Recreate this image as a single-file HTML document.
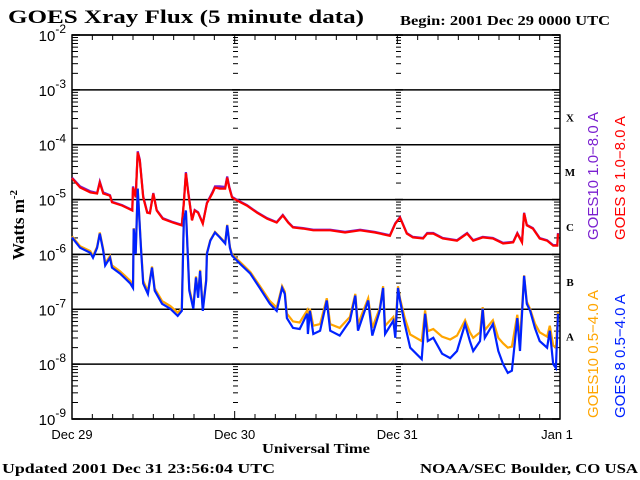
<!DOCTYPE html>
<html><head><meta charset="utf-8"><style>
html,body{margin:0;padding:0;background:#fff;}
svg{display:block;}
.serif{font-family:"Liberation Serif",serif;font-weight:bold;}
.sans{font-family:"Liberation Sans",sans-serif;}
</style></head><body>
<svg id="chart" width="640" height="480" viewBox="0 0 640 480">
<text x="8" y="23" class="serif" font-size="19" textLength="356" lengthAdjust="spacingAndGlyphs">GOES Xray Flux (5 minute data)</text>
<text x="400" y="25" class="serif" font-size="14" textLength="210" lengthAdjust="spacingAndGlyphs">Begin:  2001 Dec 29 0000 UTC</text>
<text transform="translate(24,225) rotate(-90)" text-anchor="middle" class="serif" font-size="17">Watts m<tspan font-size="11" dy="-7">-2</tspan></text>
<text x="262" y="453" class="serif" font-size="14" textLength="108" lengthAdjust="spacingAndGlyphs">Universal Time</text>
<text x="2" y="473" class="serif" font-size="14" textLength="273" lengthAdjust="spacingAndGlyphs">Updated 2001 Dec 31 23:56:04 UTC</text>
<text x="420" y="473" class="serif" font-size="14" textLength="218" lengthAdjust="spacingAndGlyphs">NOAA/SEC Boulder, CO USA</text>
<g id="axes"></g>
<g id="series"></g>
<g class="sans" font-size="15">
<text transform="translate(598,240) rotate(-90)" fill="#7a1fd0">GOES10 1.0−8.0 A</text>
<text transform="translate(625,240) rotate(-90)" fill="#ff0000">GOES 8 1.0−8.0 A</text>
<text transform="translate(598,418) rotate(-90)" fill="#ffa500">GOES10 0.5−4.0 A</text>
<text transform="translate(625,418) rotate(-90)" fill="#0022ff">GOES 8 0.5−4.0 A</text>
</g>
</svg>
<script>
const yTickExps = [-2,-3,-4,-5,-6,-7,-8,-9];
const dayLabels = ["Dec 29","Dec 30","Dec 31","Jan 1"];
const classLabels = ["X","M","C","B","A"];
const classLogs = [-3.5,-4.5,-5.5,-6.5,-7.5];
const longHours = [0,1.2,2.7,3.7,4.1,4.6,5.6,5.9,7.4,8.9,9.0,9.4,9.7,10.0,10.5,11.1,11.5,12.0,12.5,13.4,14.9,16.2,16.5,16.8,17.1,17.7,18.1,18.6,19.3,19.9,20.7,21.1,21.8,22.6,22.9,23.2,23.6,24.4,25.8,27.3,28.8,30.2,31.1,31.9,32.6,34.1,35.6,36.6,38.1,40.3,42.5,44.7,46.9,47.7,48.4,49.4,50.3,51.8,52.4,53.3,54.7,56.8,58.3,59.2,60.6,62.1,63.6,65.1,65.7,66.4,66.7,67.1,68.0,69.0,70.1,71.0,71.6,71.7];
const goes8Long = [-4.61,-4.78,-4.87,-4.89,-4.69,-4.89,-4.93,-5.05,-5.11,-5.20,-4.78,-4.96,-4.14,-4.29,-4.96,-5.24,-5.25,-4.89,-5.20,-5.35,-5.42,-5.47,-5.07,-4.52,-4.83,-5.38,-5.20,-5.24,-5.44,-5.07,-4.89,-4.78,-4.80,-4.80,-4.60,-4.78,-4.96,-5.02,-5.11,-5.24,-5.35,-5.42,-5.29,-5.42,-5.51,-5.53,-5.56,-5.56,-5.56,-5.60,-5.56,-5.60,-5.66,-5.44,-5.33,-5.62,-5.69,-5.71,-5.62,-5.62,-5.71,-5.75,-5.62,-5.75,-5.69,-5.71,-5.80,-5.78,-5.62,-5.78,-5.25,-5.47,-5.53,-5.71,-5.75,-5.84,-5.84,-5.62];
const goes10Long = [-4.60,-4.76,-4.85,-4.88,-4.67,-4.87,-4.92,-5.04,-5.10,-5.19,-4.76,-4.94,-4.12,-4.27,-4.94,-5.23,-5.24,-4.88,-5.19,-5.34,-5.41,-5.46,-5.06,-4.50,-4.81,-5.37,-5.19,-5.23,-5.43,-5.06,-4.87,-4.76,-4.76,-4.77,-4.58,-4.76,-4.95,-5.01,-5.10,-5.23,-5.34,-5.41,-5.28,-5.41,-5.50,-5.52,-5.55,-5.55,-5.55,-5.59,-5.55,-5.59,-5.65,-5.43,-5.32,-5.61,-5.68,-5.70,-5.61,-5.61,-5.70,-5.74,-5.61,-5.74,-5.68,-5.70,-5.79,-5.77,-5.61,-5.77,-5.24,-5.46,-5.52,-5.70,-5.74,-5.83,-5.83,-5.61];
const shortHours = [0,1.2,2.7,3.1,3.7,4.1,4.6,4.9,5.6,5.9,7.1,8.6,9.0,9.1,9.4,9.7,10.2,10.5,11.2,11.8,12.2,13.3,14.5,15.6,16.2,16.5,16.8,17.3,17.9,18.3,18.6,18.9,19.3,19.8,19.9,20.4,21.1,21.8,22.6,22.9,23.3,23.6,24.8,26.3,27.7,29.2,30.2,31.0,31.4,31.7,32.6,33.6,34.7,34.8,35.1,35.6,36.6,37.6,38.1,39.5,41.0,41.8,42.2,43.7,44.3,45.4,45.9,46.2,47.4,47.7,48.1,48.4,49.1,49.9,51.6,52.1,52.5,53.3,54.6,55.8,56.8,58.0,58.7,59.2,60.2,60.6,60.9,62.1,62.9,63.6,64.3,64.9,65.7,66.1,66.7,67.1,67.6,68.3,69.0,70.1,70.5,71.0,71.4,71.7];
const goes8Short = [-5.69,-5.88,-5.97,-6.06,-5.88,-5.62,-5.93,-6.20,-6.06,-6.24,-6.35,-6.53,-6.61,-5.53,-5.99,-4.80,-5.93,-6.53,-6.72,-6.24,-6.66,-6.90,-6.99,-7.12,-7.03,-5.38,-5.20,-6.66,-6.99,-6.42,-6.79,-6.30,-7.03,-6.48,-5.99,-5.75,-5.60,-5.69,-5.80,-5.47,-5.88,-6.02,-6.17,-6.35,-6.61,-6.90,-7.03,-6.61,-6.72,-7.16,-7.34,-7.36,-7.08,-7.45,-7.03,-7.45,-7.39,-6.84,-7.39,-7.48,-7.21,-6.75,-7.39,-6.84,-7.48,-7.03,-6.61,-7.45,-7.21,-7.52,-6.61,-6.84,-7.27,-7.70,-7.91,-7.08,-7.58,-7.52,-7.81,-7.89,-7.76,-7.27,-7.58,-7.76,-7.58,-6.99,-7.52,-7.27,-7.76,-8.00,-8.16,-8.12,-7.16,-7.76,-6.39,-6.90,-7.03,-7.34,-7.58,-7.70,-7.39,-8.00,-8.07,-7.08];
const goes10Short = [-5.67,-5.85,-5.94,-6.03,-5.86,-5.60,-5.90,-6.16,-6.03,-6.20,-6.31,-6.48,-6.56,-5.52,-5.96,-4.80,-5.90,-6.48,-6.67,-6.22,-6.62,-6.85,-6.94,-7.06,-6.99,-5.38,-5.20,-6.62,-6.95,-6.40,-6.75,-6.28,-6.98,-6.45,-5.97,-5.74,-5.59,-5.68,-5.78,-5.46,-5.86,-6.00,-6.14,-6.32,-6.57,-6.85,-6.97,-6.58,-6.68,-7.08,-7.22,-7.24,-7.02,-7.30,-6.99,-7.30,-7.27,-6.80,-7.27,-7.34,-7.14,-6.72,-7.27,-6.80,-7.34,-6.98,-6.58,-7.30,-7.14,-7.36,-6.58,-6.80,-7.16,-7.46,-7.58,-7.02,-7.40,-7.36,-7.50,-7.55,-7.48,-7.20,-7.42,-7.52,-7.42,-6.96,-7.38,-7.20,-7.52,-7.62,-7.70,-7.68,-7.10,-7.55,-6.38,-6.86,-7.00,-7.26,-7.42,-7.50,-7.30,-7.66,-7.70,-7.05];

const NS='http://www.w3.org/2000/svg';
const L=72,R=560,T=35,B=419;
function xs(h){return L+(R-L)*h/72;}
function ys(lg){return T+(B-T)*(-2-lg)/7;}
function mk(tag,attrs,parent){const e=document.createElementNS(NS,tag);for(const k in attrs)e.setAttribute(k,attrs[k]);parent.appendChild(e);return e;}
const ax=document.getElementById('axes');
yTickExps.forEach(function(ex){
  const y=ys(ex);
  const g=mk('line',{x1:L,x2:R,y1:y,y2:y,stroke:'#000','stroke-width':1.5},ax);
  
  
  const t=mk('text',{x:66,y:y+6,'text-anchor':'end','font-family':'Liberation Sans, sans-serif','font-size':15},ax);
  
  
  t.textContent='10';
  const s=mk('tspan',{dy:-8,'font-size':12},t); s.textContent=String(ex);
  if(ex>-9){for(let m=2;m<=9;m++){const yy=ys(ex-1+Math.log10(m));
    [[L,L+6],[233,238],[396,401],[R-6,R]].forEach(function(p){mk('line',{x1:p[0],x2:p[1],y1:yy,y2:yy,stroke:'#000','stroke-width':1},ax);});}}
});
[[L,L+8],[232,240],[395,403],[R-8,R]].forEach(function(p){yTickExps.forEach(function(ex){const y=ys(ex);mk('line',{x1:p[0],x2:p[1],y1:y,y2:y,stroke:'#000','stroke-width':1.5},ax);});});
const frame=mk('path',{d:'M'+L+' '+T+'H'+R+'V'+B+'H'+L+'Z',fill:'none',stroke:'#000','stroke-width':1.5},ax);


for(let h=0;h<=72;h+=3){const x=xs(h);const len=(h%24===0)?8:5;
  mk('line',{x1:x,x2:x,y1:T,y2:T+len,stroke:'#000'},ax);mk('line',{x1:x,x2:x,y1:B,y2:B-len,stroke:'#000'},ax);}
dayLabels.forEach(function(d,i){const t=mk('text',{x:xs(i*24)-(i===3?3:0),y:439,'text-anchor':'middle','font-family':'Liberation Sans, sans-serif','font-size':13},ax);
  
  
  t.textContent=d;});
classLabels.forEach(function(c,i){const t=mk('text',{x:570,y:ys(classLogs[i])+4,'text-anchor':'middle','font-family':'Liberation Serif, serif','font-weight':'bold','font-size':11},ax);
  
  
  t.textContent=c;});
const sg=document.getElementById('series');
function line(hours,vals,color,name){
  const pts=hours.map(function(h,i){return xs(h).toFixed(1)+','+ys(vals[i]).toFixed(1);}).join(' ');
  const p=mk('polyline',{points:pts,fill:'none',stroke:color,'stroke-width':2.2,'stroke-linejoin':'miter'},sg);
  
  
}
line(longHours,goes10Long,'#7a1fd0','series-goes10-long');
line(longHours,goes8Long,'#ff0000','series-goes8-long');
line(shortHours,goes10Short,'#ffa500','series-goes10-short');
line(shortHours,goes8Short,'#0022ff','series-goes8-short');
</script>
</body></html>
